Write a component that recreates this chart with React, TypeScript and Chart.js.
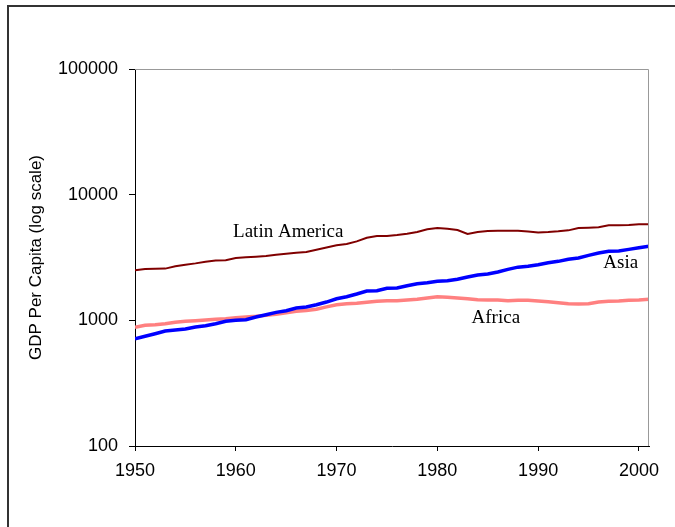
import React, { useEffect, useRef } from 'react';
import { Chart, registerables } from 'chart.js';

Chart.register(...registerables);

const years = [
  1950, 1951, 1952, 1953, 1954, 1955, 1956, 1957, 1958, 1959,
  1960, 1961, 1962, 1963, 1964, 1965, 1966, 1967, 1968, 1969,
  1970, 1971, 1972, 1973, 1974, 1975, 1976, 1977, 1978, 1979,
  1980, 1981, 1982, 1983, 1984, 1985, 1986, 1987, 1988, 1989,
  1990, 1991, 1992, 1993, 1994, 1995, 1996, 1997, 1998, 1999,
  2000, 2001,
];

const latinAmerica = [
  2500, 2560, 2570, 2580, 2690, 2770, 2840, 2930, 2990, 3010,
  3130, 3170, 3210, 3250, 3325, 3390, 3450, 3495, 3645, 3805,
  3950, 4045, 4250, 4540, 4680, 4690, 4770, 4890, 5040, 5300,
  5420, 5355, 5230, 4860, 5040, 5130, 5160, 5160, 5160, 5090,
  5010, 5040, 5105, 5200, 5420, 5450, 5495, 5700, 5700, 5730,
  5805, 5805,
];

const asia = [
  714, 746, 782, 822, 837, 853, 885, 906, 940, 982,
  1000, 1011, 1062, 1108, 1157, 1192, 1253, 1276, 1331, 1398,
  1485, 1541, 1619, 1710, 1720, 1797, 1807, 1885, 1955, 1991,
  2043, 2065, 2120, 2211, 2293, 2335, 2423, 2545, 2650, 2689,
  2769, 2872, 2947, 3057, 3131, 3289, 3430, 3539, 3558, 3671,
  3781, 3879,
];

const africa = [
  880, 913, 923, 940, 964, 982, 993, 1006, 1019, 1030,
  1049, 1062, 1076, 1095, 1120, 1150, 1180, 1200, 1225, 1280,
  1331, 1355, 1365, 1391, 1416, 1432, 1432, 1451, 1470, 1504,
  1541, 1524, 1504, 1485, 1458, 1451, 1451, 1430, 1445, 1443,
  1425, 1406, 1380, 1355, 1348, 1355, 1398, 1416, 1425, 1443,
  1451, 1470,
];

const xTickValues = [1950, 1960, 1970, 1980, 1990, 2000];
const yTickValues = [100, 1000, 10000, 100000];

const seriesNames = ['Latin America', 'Asia', 'Africa'];
const labelYears = [1965.2, 1998.2, 1985.8];
const labelValues = [5040, 2856, 1043];

const SANS = '"Liberation Sans", Arial, sans-serif';
const SERIF = '"Liberation Serif", "Times New Roman", serif';

const framePlugin = {
  id: 'frameAndLabels',
  beforeDraw(chart: any) {
    const ctx = chart.ctx;
    ctx.save();
    ctx.fillStyle = '#ffffff';
    ctx.fillRect(0, 0, chart.width, chart.height);
    ctx.strokeStyle = '#333333';
    ctx.lineWidth = 2;
    ctx.beginPath();
    ctx.moveTo(8, chart.height + 5);
    ctx.lineTo(8, 6);
    ctx.lineTo(chart.width + 5, 6);
    ctx.stroke();
    ctx.restore();
  },
  afterDraw(chart: any) {
    const ctx = chart.ctx;
    const { left, right, top, bottom } = chart.chartArea;
    ctx.save();
    ctx.strokeStyle = '#999999';
    ctx.lineWidth = 1;
    ctx.beginPath();
    ctx.moveTo(left, top + 0.5);
    ctx.lineTo(right - 0.5, top + 0.5);
    ctx.lineTo(right - 0.5, bottom);
    ctx.stroke();

    const xs = chart.scales.x;
    const ys = chart.scales.y;
    ctx.fillStyle = '#000000';
    ctx.font = '19px ' + SERIF;
    ctx.textAlign = 'center';
    ctx.textBaseline = 'middle';
    seriesNames.forEach((name, i) => {
      ctx.fillText(name, xs.getPixelForValue(labelYears[i]), ys.getPixelForValue(labelValues[i]));
    });
    ctx.restore();
  },
};

export default function App() {
  const canvasRef = useRef<HTMLCanvasElement | null>(null);

  useEffect(() => {
    document.body.style.margin = '0';
    const canvas = canvasRef.current;
    if (!canvas) return;
    const toPoints = (vals: number[]) => vals.map((v, i) => ({ x: years[i], y: v }));
    const chart = new Chart(canvas, {
      type: 'line',
      data: {
        datasets: [
          {
            label: seriesNames[0],
            data: toPoints(latinAmerica),
            borderColor: '#800000',
            borderWidth: 2,
            pointRadius: 0,
            tension: 0,
          },
          {
            label: seriesNames[1],
            data: toPoints(asia),
            borderColor: '#0000ff',
            borderWidth: 3.5,
            pointRadius: 0,
            tension: 0,
          },
          {
            label: seriesNames[2],
            data: toPoints(africa),
            borderColor: '#ff8080',
            borderWidth: 3.5,
            pointRadius: 0,
            tension: 0,
          },
        ],
      },
      options: {
        responsive: false,
        animation: false,
        devicePixelRatio: 1,
        layout: { padding: { top: 69, right: 26, left: 0, bottom: 0 } },
        plugins: {
          legend: { display: false },
          tooltip: { enabled: false },
        },
        scales: {
          x: {
            type: 'linear',
            min: 1950,
            max: 2001,
            afterBuildTicks: (scale: any) => {
              scale.ticks = xTickValues.map((v) => ({ value: v }));
            },
            afterFit: (scale: any) => {
              scale.height = 81;
            },
            grid: {
              drawOnChartArea: false,
              drawTicks: true,
              tickLength: 5,
              color: '#000000',
              tickColor: '#000000',
            },
            border: { display: true, color: '#000000', width: 1 },
            ticks: {
              color: '#000000',
              font: { family: SANS, size: 18 },
              padding: 9,
              maxRotation: 0,
              autoSkip: false,
              callback: (v: any) => String(v),
            },
          },
          y: {
            type: 'logarithmic',
            min: 100,
            max: 100000,
            afterBuildTicks: (scale: any) => {
              scale.ticks = yTickValues.map((v) => ({ value: v }));
            },
            afterFit: (scale: any) => {
              scale.width = 135;
            },
            grid: {
              drawOnChartArea: false,
              drawTicks: true,
              tickLength: 6,
              color: '#000000',
              tickColor: '#000000',
            },
            border: { display: true, color: '#000000', width: 1 },
            ticks: {
              color: '#000000',
              font: { family: SANS, size: 18 },
              padding: 11,
              autoSkip: false,
              callback: (v: any) => String(v),
            },
            title: {
              display: true,
              text: 'GDP Per Capita (log scale)',
              color: '#000000',
              font: { family: SANS, size: 17 },
              padding: { top: 26, bottom: 0 },
            },
          },
        },
      },
      plugins: [framePlugin],
    });
    return () => chart.destroy();
  }, []);

  return (
    <div style={{ width: 675, height: 527 }}>
      <canvas ref={canvasRef} width={675} height={527} style={{ display: 'block' }} />
    </div>
  );
}
